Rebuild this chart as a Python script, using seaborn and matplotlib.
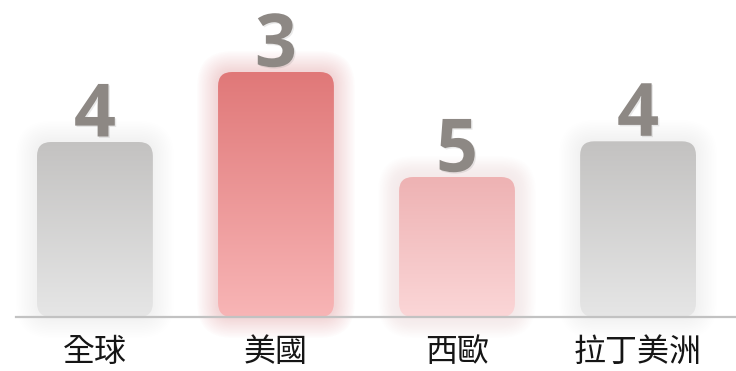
import numpy as np
import matplotlib
matplotlib.use("Agg")
import matplotlib.pyplot as plt
import seaborn as sns
from matplotlib.patches import FancyBboxPatch
from matplotlib.colors import LinearSegmentedColormap
import matplotlib.patheffects as pe

# data
regions = ["全球", "美國", "西歐", "拉丁美洲"]
values = [25, 35, 20, 25.1]
ranks = ["4", "3", "5", "4"]
top_colors = ["#c3c2c1", "#e07878", "#eeb2b3", "#c3c2c1"]
bottom_colors = ["#e6e6e6", "#f8b5b6", "#fbd6d7", "#e6e6e6"]
glow_colors = ["#dcdcdc", "#f09a9c", "#f5c5c6", "#dcdcdc"]
glow_alpha = [0.02, 0.03, 0.025, 0.02]

sns.set_style("white")
plt.rcParams["font.family"] = ["Noto Sans CJK TC", "DejaVu Sans"]

W, H = 736, 371
fig = plt.figure(figsize=(W / 100, H / 100), dpi=100)
ax = fig.add_axes([16 / W, 54 / H, 720 / W, 317 / H])

sns.barplot(x=regions, y=values, hue=regions, palette=top_colors,
            legend=False, width=0.64, ax=ax)

xmin, xmax = -0.436, 3.541
ymax = 35 * 317 / 245
ax.set_xlim(xmin, xmax)
ax.set_ylim(0, ymax)

# pixels per data unit
px_x = 720 / (xmax - xmin)
px_y = 317 / ymax
aspect = px_x / px_y

radius_px = 14
for i, bar in enumerate(ax.patches):
    x0, w, h = bar.get_x(), bar.get_width(), bar.get_height()
    bar.set_visible(False)
    # soft glow
    for k in range(1, 14):
        pad = k * 1.6 / px_x
        glow = FancyBboxPatch((x0, 0), w, h,
                              boxstyle=f"round,pad={pad},rounding_size={(radius_px + k * 1.6) / px_x}",
                              mutation_aspect=aspect, fc=glow_colors[i], ec="none",
                              alpha=glow_alpha[i], zorder=1, clip_on=False)
        ax.add_patch(glow)
    shape = FancyBboxPatch((x0, 0), w, h,
                           boxstyle=f"round,pad=0,rounding_size={radius_px / px_x}",
                           mutation_aspect=aspect, fc="none", ec="none", zorder=2)
    ax.add_patch(shape)
    cmap = LinearSegmentedColormap.from_list("g", [bottom_colors[i], top_colors[i]])
    grad = np.linspace(0, 1, 256).reshape(-1, 1)
    im = ax.imshow(grad, cmap=cmap, extent=[x0, x0 + w, 0, h], origin="lower",
                   aspect="auto", zorder=2, interpolation="bicubic")
    im.set_clip_path(shape)

ax.set_xlim(xmin, xmax)
ax.set_ylim(0, ymax)

for i, cont in enumerate(ax.containers):
    labels = ax.bar_label(cont, labels=[ranks[i]], padding=-9, fontsize=53,
                          fontweight="bold", color="#8d8884", family="Open Sans")
    for t in labels:
        t.set_path_effects([pe.withSimplePatchShadow(offset=(1, -1), alpha=0.1)])

for s in ["top", "left", "right"]:
    ax.spines[s].set_visible(False)
ax.spines["bottom"].set_color("#c2c2c2")
ax.spines["bottom"].set_linewidth(1.6)
ax.spines["bottom"].set_zorder(3)
ax.set_yticks([])
ax.tick_params(axis="x", length=0, pad=14, labelsize=23, labelcolor="#151515")
ax.set_xlabel("")
ax.set_ylabel("")

fig.savefig("out.png", dpi=100)
